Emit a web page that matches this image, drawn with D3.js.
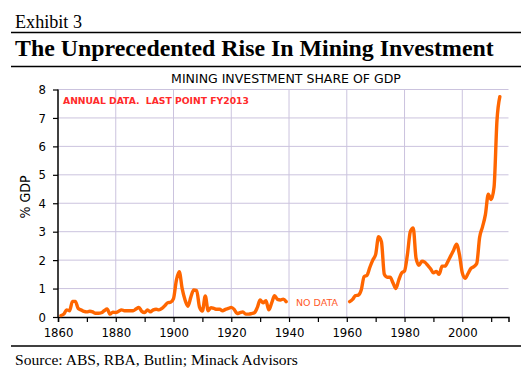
<!DOCTYPE html>
<html><head><meta charset="utf-8">
<script src="https://cdn.jsdelivr.net/npm/d3@7"></script>
<style>body{margin:0;background:#fff}svg{display:block}</style>
</head><body>
<script>
const years1 = d3.range(1861, 1940);
const values1 = [0.05,0.1,0.25,0.22,0.55,0.55,0.3,0.25,0.2,0.18,
  0.2,0.18,0.13,0.13,0.15,0.22,0.28,0.1,0.17,0.16,
  0.2,0.25,0.22,0.22,0.22,0.22,0.28,0.34,0.2,0.16,
  0.25,0.18,0.25,0.27,0.25,0.3,0.4,0.5,0.52,0.65,
  1.3,1.59,1.0,0.6,0.38,0.7,0.95,0.93,0.35,0.21,
  0.74,0.22,0.33,0.3,0.27,0.27,0.22,0.27,0.3,0.34,
  0.27,0.12,0.15,0.18,0.1,0.1,0.12,0.15,0.33,0.6,
  0.5,0.57,0.25,0.5,0.75,0.62,0.6,0.63,0.54];
const years2 = d3.range(1961, 2014);
const values2 = [0.54,0.62,0.75,0.77,0.95,1.42,1.47,1.75,2.0,2.2,
  2.82,2.65,1.5,1.4,1.4,1.2,1.0,1.3,1.55,1.62,
  2.2,3.0,3.13,2.06,1.82,1.96,1.93,1.82,1.7,1.55,
  1.6,1.5,1.79,1.79,1.95,2.15,2.35,2.56,2.2,1.55,
  1.36,1.53,1.71,1.77,1.88,2.8,3.17,3.6,4.32,4.13,
  4.57,6.9,7.75];
const xTicks = d3.range(1860, 2011, 10);
const xLabels = d3.range(1860, 2001, 20);
const yTicks = d3.range(0, 9, 1);

const W = 531, H = 371;
const svg = d3.select("body").append("svg").attr("width", W).attr("height", H);

function fitText(sel, target) {
  const w = sel.node().getComputedTextLength();
  const fs = parseFloat(sel.attr("font-size"));
  sel.attr("font-size", fs * target / w);
}

// header
const ex = svg.append("text").attr("x", 15).attr("y", 28)
  .attr("font-family", "Liberation Serif, serif").attr("font-size", 17)
  .attr("fill", "#000").text("Exhibit 3");
fitText(ex, 67);
svg.append("line").attr("x1", 11).attr("x2", 521).attr("y1", 32.5).attr("y2", 32.5)
  .attr("stroke", "#000").attr("stroke-width", 1.5);
const tt = svg.append("text").attr("x", 15).attr("y", 56)
  .attr("font-family", "Liberation Serif, serif").attr("font-weight", "bold")
  .attr("font-size", 22).attr("fill", "#000")
  .text("The Unprecedented Rise In Mining Investment");
fitText(tt, 479);
svg.append("line").attr("x1", 11).attr("x2", 521).attr("y1", 66.5).attr("y2", 66.5)
  .attr("stroke", "#000").attr("stroke-width", 1.5);

const ct = svg.append("text").attr("x", 286).attr("y", 83).attr("text-anchor", "middle")
  .attr("font-family", "DejaVu Sans, sans-serif").attr("font-size", 11).attr("fill", "#000")
  .text("MINING INVESTMENT SHARE OF GDP");
fitText(ct, 230);

// scales
const x = d3.scaleLinear().domain([1860, 2016]).range([58, 508.5]);
const y = d3.scaleLinear().domain([0, 8]).range([317, 89.5]);

// grid
const g = svg.append("g");
g.selectAll("line.h").data(yTicks.filter(d => d > 0)).join("line")
  .attr("x1", x(1860)).attr("x2", x(2016)).attr("y1", d => y(d)).attr("y2", d => y(d))
  .attr("stroke", "#cbc3de").attr("stroke-width", 1);
g.selectAll("line.v").data(xLabels.filter(d => d > 1860)).join("line")
  .attr("x1", d => x(d)).attr("x2", d => x(d)).attr("y1", y(0)).attr("y2", y(8))
  .attr("stroke", "#cbc3de").attr("stroke-width", 1);

// axes
const xa = svg.append("g").attr("transform", `translate(0,${y(0)})`)
  .call(d3.axisBottom(x).tickValues(xTicks).tickSize(5).tickPadding(6)
    .tickFormat(d => xLabels.includes(d) ? String(d) : ""));
const ya = svg.append("g").attr("transform", `translate(${x(1860)},0)`)
  .call(d3.axisLeft(y).tickValues(yTicks).tickSize(5).tickPadding(7).tickFormat(d3.format("d")));
[xa, ya].forEach(a => {
  a.select(".domain").attr("stroke", "#000").attr("stroke-width", 1.5);
  a.selectAll(".tick line").attr("stroke", "#000").attr("stroke-width", 1.2);
  a.selectAll("text").attr("font-family", "DejaVu Sans Condensed, DejaVu Sans, sans-serif")
    .attr("font-size", 13).attr("fill", "#000");
});
ya.select(".domain").attr("d", `M-0,${y(8)}V${y(0)}`);

svg.append("text").attr("transform", "translate(30,197) rotate(-90)")
  .attr("text-anchor", "middle").attr("font-family", "DejaVu Sans Condensed, DejaVu Sans, sans-serif")
  .attr("font-size", 14).attr("fill", "#000").text("% GDP");

// lines
const line = d3.line().x(d => x(d[0])).y(d => y(d[1])).curve(d3.curveMonotoneX);
[[years1, values1], [years2, values2]].forEach(([ys, vs]) => {
  svg.append("path").datum(ys.map((yr, i) => [yr, vs[i]]))
    .attr("d", line).attr("fill", "none").attr("stroke", "#ff6600")
    .attr("stroke-width", 3.4).attr("stroke-linejoin", "round").attr("stroke-linecap", "round");
});

// annotations
const an = svg.append("text").attr("x", 63).attr("y", 103.5)
  .attr("font-family", "DejaVu Sans, sans-serif").attr("font-weight", "bold")
  .attr("font-size", 10).attr("fill", "#ff2a2a").attr("xml:space", "preserve")
  .style("white-space", "pre").text("ANNUAL DATA.  LAST POINT FY2013");
fitText(an, 186);
const nd = svg.append("text").attr("x", 296).attr("y", 306)
  .attr("font-family", "DejaVu Sans, sans-serif")
  .attr("font-size", 10).attr("fill", "#ff5a2a").text("NO DATA");
fitText(nd, 42);

// footer
svg.append("line").attr("x1", 11).attr("x2", 521).attr("y1", 346).attr("y2", 346)
  .attr("stroke", "#000").attr("stroke-width", 1.5);
const src = svg.append("text").attr("x", 15).attr("y", 365)
  .attr("font-family", "Liberation Serif, serif").attr("font-size", 15).attr("fill", "#000")
  .text("Source: ABS, RBA, Butlin; Minack Advisors");
fitText(src, 283);
</script>
</body></html>
